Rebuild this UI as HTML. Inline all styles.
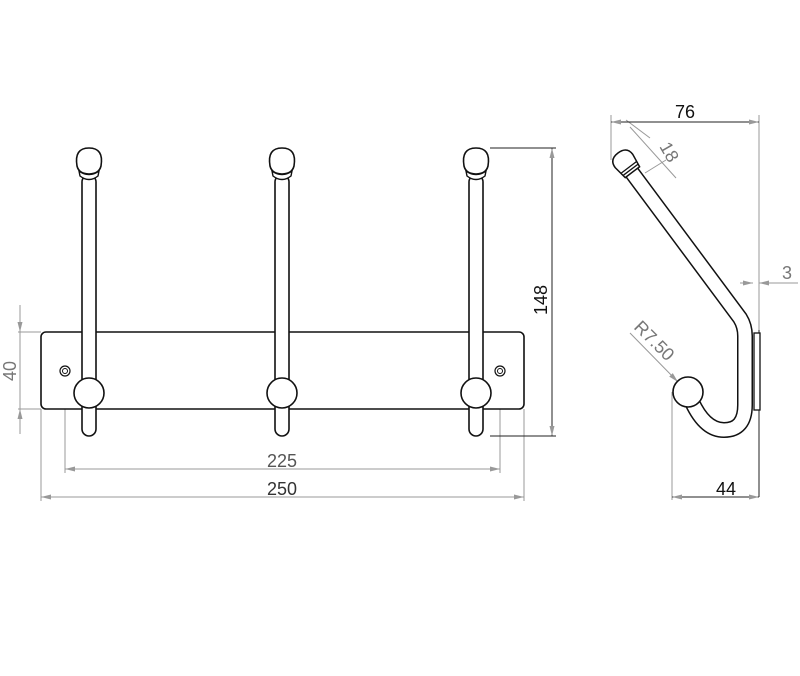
<!DOCTYPE html>
<html><head><style>body{margin:0;background:#fff}svg{display:block}</style></head><body>
<svg width="800" height="676" viewBox="0 0 800 676" xmlns="http://www.w3.org/2000/svg" font-family="Liberation Sans, sans-serif">
<defs>
<marker id="a" viewBox="0 0 10 6" refX="10" refY="3" markerWidth="10" markerHeight="6" orient="auto-start-reverse" markerUnits="userSpaceOnUse"><path d="M0,0.5 L10,3 L0,5.5z" fill="#999"/></marker>
<g id="hook">
<rect x="-7" y="175" width="14" height="261" rx="7" fill="#fff" stroke="#111" stroke-width="1.6"/>
<path d="M-10,171 Q0,178 10,171 L9,176 Q0,183 -9,176z" fill="#fff" stroke="#111" stroke-width="1.4"/>
<path d="M-12,166 Q-15,148 0,148 Q15,148 12,166 Q10,174 0,174 Q-10,174 -12,166z" fill="#fff" stroke="#111" stroke-width="1.6"/>
<circle cx="0" cy="393" r="15" fill="#fff" stroke="#111" stroke-width="1.6"/>
</g>
</defs>
<g fill="none" stroke="#999" stroke-width="1">
<line x1="18" y1="332" x2="41" y2="332"/><line x1="18" y1="409" x2="41" y2="409"/>
<line x1="20" y1="305" x2="20" y2="332" marker-end="url(#a)"/><line x1="20" y1="434" x2="20" y2="409" marker-end="url(#a)"/>
<line x1="20" y1="332" x2="20" y2="409"/>
<line x1="65" y1="375" x2="65" y2="473"/><line x1="500" y1="375" x2="500" y2="473"/>
<line x1="65" y1="469" x2="500" y2="469" marker-start="url(#a)" marker-end="url(#a)"/>
<line x1="41" y1="409" x2="41" y2="501"/><line x1="524" y1="409" x2="524" y2="501"/>
<line x1="41" y1="497" x2="524" y2="497" marker-start="url(#a)" marker-end="url(#a)"/>
</g>
<g stroke="#222" stroke-width="1" fill="none">
<line x1="490" y1="148" x2="556" y2="148"/><line x1="490" y1="436" x2="556" y2="436"/>
<line x1="552" y1="148" x2="552" y2="436" marker-start="url(#a)" marker-end="url(#a)"/>
</g>
<rect x="41" y="332" width="483" height="77" rx="5" fill="#fff" stroke="#111" stroke-width="1.6"/>
<circle cx="65" cy="371" r="5" fill="none" stroke="#111" stroke-width="1.2"/><circle cx="65" cy="371" r="2.5" fill="none" stroke="#111" stroke-width="1"/>
<circle cx="500" cy="371" r="5" fill="none" stroke="#111" stroke-width="1.2"/><circle cx="500" cy="371" r="2.5" fill="none" stroke="#111" stroke-width="1"/>
<use href="#hook" x="89"/><use href="#hook" x="282"/><use href="#hook" x="476"/>
<g fill="#777" font-size="18">
<text x="282" y="467" text-anchor="middle" fill="#555">225</text>
<text x="282" y="495" text-anchor="middle" fill="#333">250</text>
<text transform="translate(16,371) rotate(-90)" text-anchor="middle">40</text>
<text transform="translate(547,300) rotate(-90)" text-anchor="middle" fill="#111">148</text>
</g>
<g stroke="#999" stroke-width="1" fill="none">
<line x1="611" y1="115" x2="611" y2="160"/>
<line x1="759" y1="115" x2="759" y2="330"/>
<line x1="626" y1="120" x2="650" y2="138"/><line x1="645" y1="173" x2="666" y2="160"/>
<line x1="630" y1="127" x2="676" y2="178" />
<line x1="740" y1="283" x2="753" y2="283" marker-end="url(#a)"/><line x1="798" y1="283" x2="759" y2="283" marker-end="url(#a)"/>
<line x1="630" y1="333" x2="678" y2="382" marker-end="url(#a)"/>
<line x1="672" y1="392" x2="672" y2="500"/>
</g>
<g stroke="#222" stroke-width="1" fill="none">
<line x1="611" y1="122" x2="759" y2="122" marker-start="url(#a)" marker-end="url(#a)"/>
<line x1="672" y1="497" x2="759" y2="497" marker-start="url(#a)" marker-end="url(#a)"/>
<line x1="759" y1="330" x2="759" y2="497"/>
</g>
<rect x="754" y="333" width="6" height="77" fill="#fff" stroke="#111" stroke-width="1.3"/>
<path d="M630,170 L740,318 Q745,326 745,336 L745,405 Q745,430 724,430 Q705,430 692,402" fill="none" stroke="#111" stroke-width="16" stroke-linecap="round"/>
<path d="M630,170 L740,318 Q745,326 745,336 L745,405 Q745,430 724,430 Q705,430 692,402" fill="none" stroke="#fff" stroke-width="13" stroke-linecap="round"/>
<g transform="translate(624,161) rotate(-37)">
<path d="M-11,0 Q-11,-10 0,-10 Q11,-10 11,0 L9,14 L-9,14z" fill="#fff" stroke="#111" stroke-width="1.5"/>
<line x1="-9.5" y1="8" x2="9.5" y2="8" stroke="#111" stroke-width="1.3"/><line x1="-9" y1="11" x2="9" y2="11" stroke="#111" stroke-width="1.3"/>
</g>
<circle cx="688" cy="392" r="15" fill="#fff" stroke="#111" stroke-width="1.6"/>
<g font-size="18">
<text x="685" y="118" text-anchor="middle" fill="#111">76</text>
<text x="726" y="495" text-anchor="middle" fill="#111">44</text>
<text x="787" y="279" text-anchor="middle" fill="#777">3</text>
<text transform="translate(664,155) rotate(60)" text-anchor="middle" fill="#777">18</text>
<text transform="translate(650,345) rotate(45)" text-anchor="middle" fill="#777">R7.50</text>
</g>
</svg>
</body></html>
